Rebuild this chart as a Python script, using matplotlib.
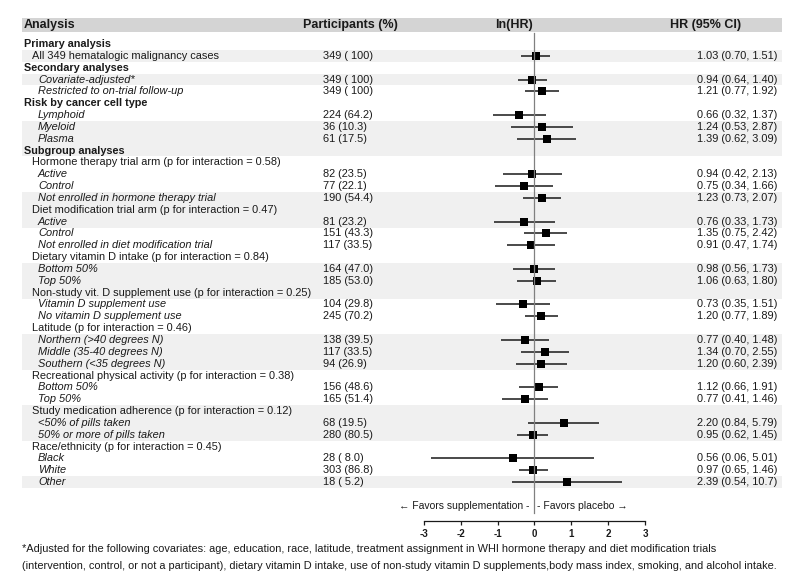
import numpy as np
import matplotlib
matplotlib.use("Agg")
import matplotlib.pyplot as plt
from matplotlib.transforms import blended_transform_factory

plt.rcParams["font.family"] = ["Liberation Sans", "DejaVu Sans"]

# ---- table content ----
labels = [
    "Primary analysis",
    "All 349 hematalogic malignancy cases",
    "Secondary analyses",
    "Covariate-adjusted*",
    "Restricted to on-trial follow-up",
    "Risk by cancer cell type",
    "Lymphoid",
    "Myeloid",
    "Plasma",
    "Subgroup analyses",
    "Hormone therapy trial arm (p for interaction = 0.58)",
    "Active",
    "Control",
    "Not enrolled in hormone therapy trial",
    "Diet modification trial arm (p for interaction = 0.47)",
    "Active",
    "Control",
    "Not enrolled in diet modification trial",
    "Dietary vitamin D intake (p for interaction = 0.84)",
    "Bottom 50%",
    "Top 50%",
    "Non-study vit. D supplement use (p for interaction = 0.25)",
    "Vitamin D supplement use",
    "No vitamin D supplement use",
    "Latitude (p for interaction = 0.46)",
    "Northern (>40 degrees N)",
    "Middle (35-40 degrees N)",
    "Southern (<35 degrees N)",
    "Recreational physical activity (p for interaction = 0.38)",
    "Bottom 50%",
    "Top 50%",
    "Study medication adherence (p for interaction = 0.12)",
    "<50% of pills taken",
    "50% or more of pills taken",
    "Race/ethnicity (p for interaction = 0.45)",
    "Black",
    "White",
    "Other",
]
# 0 = section header, 1 = group line, 2 = subgroup (italic)
levels = [0, 1, 0, 2, 2, 0, 2, 2, 2, 0,
          1, 2, 2, 2, 1, 2, 2, 2, 1, 2, 2, 1, 2, 2,
          1, 2, 2, 2, 1, 2, 2, 1, 2, 2, 1, 2, 2, 2]
n_cases = [None, 349, None, 349, 349, None, 224, 36, 61, None,
           None, 82, 77, 190, None, 81, 151, 117, None, 164, 185, None, 104, 245,
           None, 138, 117, 94, None, 156, 165, None, 68, 280, None, 28, 303, 18]
pct = [None, 100, None, 100, 100, None, 64.2, 10.3, 17.5, None,
       None, 23.5, 22.1, 54.4, None, 23.2, 43.3, 33.5, None, 47.0, 53.0, None, 29.8, 70.2,
       None, 39.5, 33.5, 26.9, None, 48.6, 51.4, None, 19.5, 80.5, None, 8.0, 86.8, 5.2]
hr = [None, 1.03, None, 0.94, 1.21, None, 0.66, 1.24, 1.39, None,
      None, 0.94, 0.75, 1.23, None, 0.76, 1.35, 0.91, None, 0.98, 1.06, None, 0.73, 1.20,
      None, 0.77, 1.34, 1.20, None, 1.12, 0.77, None, 2.20, 0.95, None, 0.56, 0.97, 2.39]
ci_lo = [None, 0.70, None, 0.64, 0.77, None, 0.32, 0.53, 0.62, None,
         None, 0.42, 0.34, 0.73, None, 0.33, 0.75, 0.47, None, 0.56, 0.63, None, 0.35, 0.77,
         None, 0.40, 0.70, 0.60, None, 0.66, 0.41, None, 0.84, 0.62, None, 0.06, 0.65, 0.54]
ci_hi = [None, 1.51, None, 1.40, 1.92, None, 1.37, 2.87, 3.09, None,
         None, 2.13, 1.66, 2.07, None, 1.73, 2.42, 1.74, None, 1.73, 1.80, None, 1.51, 1.89,
         None, 1.48, 2.55, 2.39, None, 1.91, 1.46, None, 5.79, 1.45, None, 5.01, 1.46, 10.7]

x_ticks = [-3, -2, -1, 0, 1, 2, 3]

footnote = [
    "*Adjusted for the following covariates: age, education, race, latitude, treatment "
    "assignment in WHI hormone therapy and diet modification trials",
    "(intervention, control, or not a participant), dietary vitamin D intake, use of "
    "non-study vitamin D supplements,body mass index, smoking, and alcohol intake.",
]

SHADED_ROWS = [2, 4, 8, 9, 10, 14, 15, 16, 20, 21, 22, 26, 27, 28, 32, 33, 34, 38]

# ---- layout (pixels of an 800x588 canvas) ----
W, H = 800, 588
ROW0_PX, ROW_PX = 44, 11.84
AX_TOP, AX_BOT = 18, 521
TAB_L, TAB_R = 22, 782
XM3_PX, XP3_PX = 424, 645
TEXT = "#1a1a1a"


def row_of(px):
    return 1 + (px - ROW0_PX) / ROW_PX


def fmt_hr(v):
    return f"{v:.2f}" if v < 10 else f"{v:.1f}"


def fmt_n(n, p):
    ps = f"{p:4.0f}" if p >= 100 else f"{p:4.1f}"
    return f"{n} ({ps})"


fig = plt.figure(figsize=(W / 100, H / 100), dpi=100)
ax = fig.add_axes([TAB_L / W, 1 - AX_BOT / H, (TAB_R - TAB_L) / W, (AX_BOT - AX_TOP) / H])
unit = (XP3_PX - XM3_PX) / 6
ax.set_xlim(-3 - (XM3_PX - TAB_L) / unit, 3 + (TAB_R - XP3_PX) / unit)
ax.set_ylim(row_of(AX_BOT), row_of(AX_TOP))

for s in ["top", "left", "right"]:
    ax.spines[s].set_visible(False)
ax.spines["bottom"].set_bounds(-3, 3)
ax.spines["bottom"].set_linewidth(0.9)
ax.spines["bottom"].set_color(TEXT)
ax.set_yticks([])
ax.set_xticks(x_ticks)
ax.set_xticklabels([str(t) for t in x_ticks], fontweight="bold")
ax.tick_params(axis="x", direction="out", length=3, width=0.9, labelsize=7, pad=3,
               colors=TEXT)

# bands
ax.axhspan(row_of(18), row_of(32), color="#d4d4d4", lw=0, zorder=0)
for r in SHADED_ROWS:
    ax.axhspan(r - 0.5, r + 0.5, color="#f0f0f0", lw=0, zorder=0)

tr = blended_transform_factory(fig.transFigure, ax.transData)
hy = row_of(25)
ax.text(24 / W, hy, "Analysis", transform=tr, fontsize=9, fontweight="bold",
        va="center", color=TEXT)
ax.text(303 / W, hy, "Participants (%)", transform=tr, fontsize=9, fontweight="bold",
        va="center", color=TEXT)
ax.text(533 / W, hy, "ln(HR)", transform=tr, fontsize=9, fontweight="bold",
        va="center", ha="right", color=TEXT)
ax.text(706 / W, hy, "HR (95% CI)", transform=tr, fontsize=9, fontweight="bold",
        va="center", ha="center", color=TEXT)

indent = {0: 24, 1: 31.5, 2: 38}
for i, lab in enumerate(labels):
    r = i + 1
    lev = levels[i]
    kw = dict(transform=tr, va="center", fontsize=7.9, color=TEXT)
    if lev == 0:
        kw["fontweight"] = "bold"
        kw["fontsize"] = 7.8
    elif lev == 2:
        kw["fontstyle"] = "italic"
    ax.text(indent[lev] / W, r, lab, **kw)
    if hr[i] is None:
        continue
    ax.text(323 / W, r, fmt_n(n_cases[i], pct[i]), transform=tr, va="center",
            fontsize=7.9, color=TEXT)
    ax.text(697 / W, r, f"{fmt_hr(hr[i])} ({fmt_hr(ci_lo[i])}, {fmt_hr(ci_hi[i])})",
            transform=tr, va="center", fontsize=7.9, color=TEXT)
    ax.plot(np.log([ci_lo[i], ci_hi[i]]), [r, r], color="#2b2b2b", lw=1.2,
            solid_capstyle="butt", zorder=3)
    ax.plot(np.log(hr[i]), r, marker="s", ms=5.8, color="black", mew=0, zorder=4)

# reference line at ln(HR) = 0, drawn over the markers
axh = AX_BOT - AX_TOP
ax.axvline(0, ymin=(AX_BOT - 513) / axh, ymax=(AX_BOT - 33) / axh,
           color="#808080", lw=0.9, zorder=5)

fy = row_of(506)
ax.text(-0.14, fy, "\u2190 Favors supplementation -", ha="right", va="center",
        fontsize=7.5, color=TEXT)
ax.text(0.08, fy, "- Favors placebo \u2192", ha="left", va="center",
        fontsize=7.5, color=TEXT)

fig.text(22 / W, 1 - 549 / H, footnote[0], fontsize=7.93, va="center", color=TEXT)
fig.text(22 / W, 1 - 566 / H, footnote[1], fontsize=7.93, va="center", color=TEXT)

fig.savefig("out.png", dpi=100)
